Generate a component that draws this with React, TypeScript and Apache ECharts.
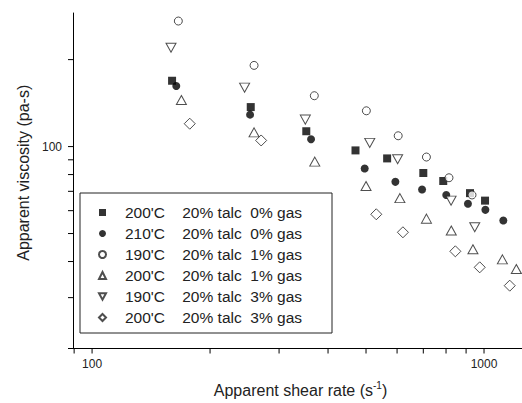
import React, { useEffect, useRef } from "react";
import * as echarts from "echarts";

const names = [
  "200'C    20% talc  0% gas",
  "210'C    20% talc  0% gas",
  "190'C    20% talc  1% gas",
  "200'C    20% talc  1% gas",
  "190'C    20% talc  3% gas",
  "200'C    20% talc  3% gas",
];

const x200c0 = [160, 254, 352, 470, 566, 700, 787, 921, 1006];
const y200c0 = [169, 137, 113, 97, 91, 81, 76, 69, 65];

const x210c0 = [164, 253, 362, 496, 594, 695, 801, 910, 1008, 1120];
const y210c0 = [162, 129, 106, 84, 75.5, 71, 68, 63.4, 60.4, 55.5];

const x190c1 = [166, 259, 369, 501, 604, 713, 814, 932];
const y190c1 = [272, 191, 150, 133, 109, 92, 78, 68];

const x200c1 = [169, 259, 370, 500, 610, 713, 825, 937, 1114, 1209];
const y200c1 = [145, 112, 88.7, 73, 66.3, 56.3, 51.2, 44.1, 40.7, 37.7];

const x190c3 = [159, 245, 350, 511, 602, 824, 947];
const y190c3 = [220, 160, 124, 103, 90.4, 65, 52.6];

const x200c3 = [177.5, 270, 531, 621, 845, 975, 1163];
const y200c3 = [120, 105, 58.3, 50.5, 43.4, 38.2, 33];

const X_MIN = 89.4;
const X_MAX = 1250;
const Y_MIN = 20;
const Y_MAX = 290;

const xTicks = [90, 100, 200, 300, 400, 500, 600, 700, 800, 900, 1000];
const yTicks = [20, 30, 40, 50, 60, 70, 80, 90, 100, 200];
const majorLabels = [100, 1000];

const FONT = "'Liberation Sans', Arial, sans-serif";

const zip = (xs: number[], ys: number[]) => xs.map((x, i) => [x, ys[i]]);

export default function App() {
  const ref = useRef<HTMLDivElement>(null);
  useEffect(() => {
    if (!ref.current) return;
    const chart = echarts.init(ref.current, undefined, { renderer: "svg" });
    const open = { color: "#fff", borderColor: "#222", borderWidth: 1 };
    const filled = { color: "#000" };
    const labelFmt = (v: number) => {
      const m = majorLabels.find((t) => Math.abs(t - v) / t < 1e-6);
      return m ? String(m) : "";
    };
    chart.setOption({
      animation: false,
      backgroundColor: "#fff",
      textStyle: { fontFamily: FONT },
      grid: { left: 73, right: 0, top: 13, bottom: 54 },
      legend: {
        orient: "vertical",
        left: 80,
        top: 193,
        itemWidth: 7,
        itemHeight: 7,
        itemGap: 0,
        padding: [9, 30, 5, 18],
        borderColor: "#222",
        borderWidth: 1,
        backgroundColor: "#fff",
        selectedMode: false,
        data: names,
        textStyle: {
          fontSize: 15.5,
          color: "#222",
          fontFamily: FONT,
          lineHeight: 21,
          padding: [0, 0, 0, 14],
        },
      },
      xAxis: {
        type: "log",
        logBase: 10,
        min: X_MIN,
        max: X_MAX,
        splitLine: { show: false },
        axisTick: { show: false },
        axisLine: { lineStyle: { color: "#000", width: 1 } },
        axisLabel: { formatter: labelFmt, fontSize: 12, color: "#222", margin: 9, showMinLabel: false, showMaxLabel: false },
        name: "{a|Apparent shear rate (s}{b|-1}{a|)}",
        nameLocation: "middle",
        nameGap: 32,
        nameTextStyle: {
          padding: [0, 0, 0, 6],
          rich: {
            a: { fontSize: 16, color: "#222", fontFamily: FONT },
            b: { fontSize: 10, color: "#222", fontFamily: FONT, padding: [0, 0, 9, 0] },
          },
        },
      },
      yAxis: {
        type: "log",
        logBase: 10,
        min: Y_MIN,
        max: Y_MAX,
        splitLine: { show: false },
        axisTick: { show: false },
        axisLine: { lineStyle: { color: "#000", width: 1 } },
        axisLabel: { formatter: labelFmt, fontSize: 12, color: "#222", margin: 11, showMinLabel: false, showMaxLabel: false },
        name: "Apparent viscosity (pa-s)",
        nameLocation: "middle",
        nameGap: 33,
        nameTextStyle: { fontSize: 16, color: "#222", fontFamily: FONT, padding: [0, 0, 0, 16] },
      },
      series: [
        { name: names[0], type: "scatter", symbol: "rect", symbolSize: 8, itemStyle: filled, data: zip(x200c0, y200c0) },
        { name: names[1], type: "scatter", symbol: "circle", symbolSize: 8, itemStyle: filled, data: zip(x210c0, y210c0) },
        { name: names[2], type: "scatter", symbol: "circle", symbolSize: 8, itemStyle: open, data: zip(x190c1, y190c1) },
        { name: names[3], type: "scatter", symbol: "triangle", symbolSize: [10, 9], itemStyle: open, data: zip(x200c1, y200c1) },
        { name: names[4], type: "scatter", symbol: "path://M0,0L10,0L5,9Z", symbolSize: [10, 9], itemStyle: open, data: zip(x190c3, y190c3) },
        { name: names[5], type: "scatter", symbol: "diamond", symbolSize: 11, itemStyle: open, data: zip(x200c3, y200c3) },
        {
          type: "custom",
          silent: true,
          clip: false,
          data: yTicks.map((v) => [X_MIN, v]),
          renderItem: (_p: any, api: any) => {
            const p = api.coord([api.value(0), api.value(1)]);
            return { type: "line", shape: { x1: p[0] - 5, y1: p[1], x2: p[0], y2: p[1] }, style: { stroke: "#000", lineWidth: 1 } };
          },
        },
        {
          type: "custom",
          silent: true,
          clip: false,
          data: xTicks.map((v) => [v, Y_MIN]),
          renderItem: (_p: any, api: any) => {
            const p = api.coord([api.value(0), api.value(1)]);
            return { type: "line", shape: { x1: p[0], y1: p[1], x2: p[0], y2: p[1] + 5 }, style: { stroke: "#000", lineWidth: 1 } };
          },
        },
      ],
    });
    return () => chart.dispose();
  }, []);
  return <div ref={ref} style={{ position: "fixed", left: 0, top: 0, width: 522, height: 403 }} />;
}
